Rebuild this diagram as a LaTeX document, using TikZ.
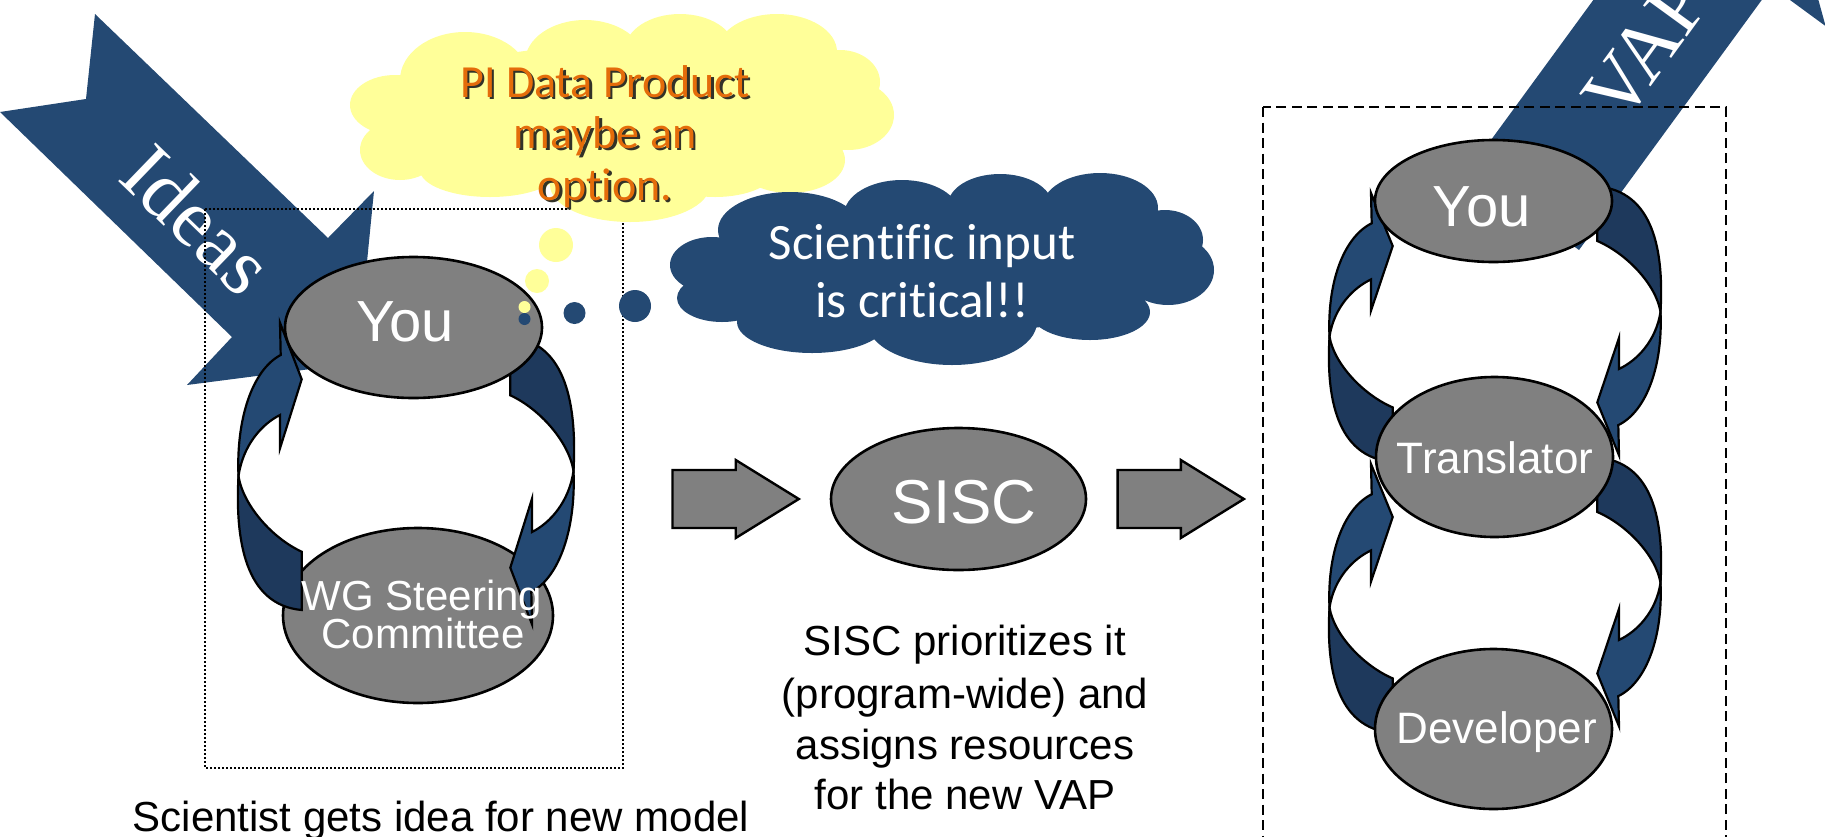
\documentclass[tikz,border=0pt]{standalone}
\usepackage{fontspec}
\setmainfont{Liberation Sans}
\newfontfamily\romanface{Liberation Serif}
\newfontfamily\cloudface[Ligatures=NoCommon]{Carlito}
\usetikzlibrary{shapes.geometric}

\definecolor{navy}{RGB}{36,73,115}
\definecolor{navydark}{RGB}{30,57,92}
\definecolor{cloudyellow}{RGB}{255,255,153}
\definecolor{ochre}{RGB}{228,108,10}
\definecolor{shadowgray}{RGB}{50,50,40}
\definecolor{ellgray}{RGB}{128,128,128}

% curved ribbon arrow: light front part with the head, dark back part with the tail
\newcommand{\ribbonarrow}{%
  \filldraw[ribbon]
    (280,322.7) -- (301.7,379.3) -- (280,448.3) -- (280,415)
    .. controls (262,424) and (243,445) .. (238.5,476)
    .. controls (236,420) and (252,370) .. (280.7,355) -- cycle;
  \filldraw[ribbonback]
    (238.5,476) .. controls (235,540) and (245,605) .. (301.7,610)
    -- (301.7,551.7) .. controls (272,538) and (243,505) .. (238.5,476) -- cycle;
}

\tikzset{
  blob/.style={ellipse, draw=black, line width=2.6pt, fill=ellgray, inner sep=0pt},
  wlabel/.style={text=white, inner sep=0pt, anchor=base},
  caption/.style={text=black, inner sep=0pt, anchor=base, font=\fontsize{42pt}{48pt}\selectfont},
  blockarrow/.style={fill=ellgray, draw=black, line width=2.4pt, line join=miter},
  ribbon/.style={fill=navy, draw=black, line width=2.2pt, line join=miter},
  ribbonback/.style={fill=navydark, draw=black, line width=2.2pt, line join=miter},
  banner/.style={fill=navy},
  bannertext/.style={text=white, inner sep=0pt, font=\romanface\fontsize{82pt}{82pt}\selectfont},
  yellowtext/.style={inner sep=0pt, anchor=base, font=\cloudface\fontsize{46pt}{50pt}\selectfont},
  bluetext/.style={text=white, inner sep=0pt, anchor=base, font=\cloudface\fontsize{51pt}{56pt}\selectfont},
}

\begin{document}
\begin{tikzpicture}[x=1pt, y=-1pt]
\useasboundingbox (0,0) rectangle (1825,836);
\clip (0,0) rectangle (1825,836);

% ---------------- Ideas banner ----------------
\fill[banner] (95,14) -- (328,238) -- (374,191) -- (357,363) -- (187,385)
  -- (232,337) -- (0,112) -- (86,99) -- cycle;
\node[bannertext, rotate=-44] (ideas) at (198,219) {Ideas};

% dotted frame of the working group
\draw[line width=2pt, dash pattern=on 2pt off 2pt] (205,209) rectangle (623,768);

% working group cycle
\node[blob, minimum width=270pt, minimum height=175pt] (wg) at (418,615.5) {};
\ribbonarrow
\begin{scope}[shift={(812,947)}, scale=-1]
  \ribbonarrow
\end{scope}
\node[blob, minimum width=257pt, minimum height=141pt] (you1) at (413.5,327.5) {};
\node[wlabel, font=\fontsize{58pt}{58pt}\selectfont] (you1-t) at (405,341.7) {You};
\node[wlabel, font=\fontsize{42pt}{42pt}\selectfont] (wg-t1) at (422,610) {WG Steering};
\node[wlabel, font=\fontsize{42pt}{42pt}\selectfont] (wg-t2) at (423,648) {Committee};

% ---------------- thought clouds ----------------
\fill[cloudyellow]
  (620,115) ellipse [x radius=235pt, y radius=70pt]
  (465,80) ellipse [x radius=65pt, y radius=48pt]
  (585,62) ellipse [x radius=60pt, y radius=42pt]
  (680,50) ellipse [x radius=55pt, y radius=36pt]
  (777,52) ellipse [x radius=60pt, y radius=38pt]
  (840,82) ellipse [x radius=40pt, y radius=32pt]
  (848,115) ellipse [x radius=46pt, y radius=35pt]
  (790,160) ellipse [x radius=55pt, y radius=33pt]
  (630,185) ellipse [x radius=80pt, y radius=37pt]
  (715,170) ellipse [x radius=60pt, y radius=27pt]
  (490,170) ellipse [x radius=70pt, y radius=27pt]
  (400,150) ellipse [x radius=40pt, y radius=30pt]
  (395,105) ellipse [x radius=45pt, y radius=30pt];
\foreach \t/\y [count=\i] in {PI Data Product/97, maybe an/148, option./200} {
  \node[yellowtext, text=shadowgray] (pi-s\i) at (607.5,\y+2.5) {\t};
  \node[yellowtext, text=ochre] (pi-\i) at (605,\y) {\t};
}

\fill[navy]
  (942,268) ellipse [x radius=235pt, y radius=65pt]
  (790,230) ellipse [x radius=72pt, y radius=38pt]
  (902,215) ellipse [x radius=58pt, y radius=35pt]
  (1000,205) ellipse [x radius=52pt, y radius=31pt]
  (1100,208) ellipse [x radius=58pt, y radius=35pt]
  (1165,240) ellipse [x radius=38pt, y radius=30pt]
  (1168,270) ellipse [x radius=46pt, y radius=35pt]
  (1090,312) ellipse [x radius=60pt, y radius=28pt]
  (952,322) ellipse [x radius=85pt, y radius=43pt]
  (812,322) ellipse [x radius=75pt, y radius=31pt]
  (722,298) ellipse [x radius=45pt, y radius=24pt]
  (712,265) ellipse [x radius=42pt, y radius=28pt];
\node[bluetext] (sci-1) at (922,259) {Scientific input};
\node[bluetext] (sci-2) at (922,317) {is critical!!};

% thought bubbles
\fill[cloudyellow] (556,245) circle [radius=17pt];
\fill[cloudyellow] (537,281) circle [radius=12pt];
\fill[cloudyellow] (524.5,307) circle [radius=6pt];
\fill[navy] (524.5,319) circle [radius=6pt];
\fill[navy] (574.5,313) circle [radius=11pt];
\fill[navy] (635,306) circle [radius=16pt];

% ---------------- SISC step ----------------
\draw[blockarrow] (672.5,470) -- (735.7,470) -- (735.7,460) -- (798.8,499)
  -- (735.7,538) -- (735.7,528) -- (672.5,528) -- cycle;
\node[blob, minimum width=255pt, minimum height=142pt] (sisc) at (958.5,499) {};
\node[wlabel, font=\fontsize{62pt}{62pt}\selectfont] (sisc-t) at (964,523.3) {SISC};
\draw[blockarrow] (1117.6,470) -- (1180.8,470) -- (1180.8,460) -- (1243.9,499)
  -- (1180.8,538) -- (1180.8,528) -- (1117.6,528) -- cycle;

\node[caption] (cap-1) at (965,655) {SISC prioritizes it};
\node[caption] (cap-2) at (965,708) {(program-wide) and};
\node[caption] (cap-3) at (965,759) {assigns resources};
\node[caption] (cap-4) at (965,809) {for the new VAP};
\node[caption] (cap-left) at (441,831) {Scientist gets idea for new model};

% ---------------- VAP banner and development team ----------------
\fill[banner] (1469.2,169.8) -- (1661.8,-93.7) -- (1607.8,-133.3) -- (1779.8,-139.9)
  -- (1825.6,26.1) -- (1771.6,-13.5) -- (1579,250) -- cycle;
\node[bannertext, rotate=54] (vap) at (1646,49) {VAP};

\draw[line width=2.3pt, dash pattern=on 10pt off 5.5pt] (1263,107) rectangle (1726,880);

\begin{scope}[shift={(1091,-109)}, yscale=0.936]
  \ribbonarrow
\end{scope}
\begin{scope}[shift={(1087,-129)}, yscale=0.936, shift={(812,947)}, scale=-1]
  \ribbonarrow
\end{scope}
\begin{scope}[shift={(1091,162)}, yscale=0.936]
  \ribbonarrow
\end{scope}
\begin{scope}[shift={(1087,142)}, yscale=0.936, shift={(812,947)}, scale=-1]
  \ribbonarrow
\end{scope}

\node[blob, minimum width=237pt, minimum height=122pt] (you2) at (1493.5,201) {};
\node[blob, minimum width=237pt, minimum height=160pt] (trans) at (1494.5,457) {};
\node[blob, minimum width=237pt, minimum height=160pt] (dev) at (1493.5,729) {};
\node[wlabel, font=\fontsize{58pt}{58pt}\selectfont] (you2-t) at (1481.7,226.7) {You};
\node[wlabel, font=\fontsize{44pt}{44pt}\selectfont] (trans-t) at (1495,473.3) {Translator};
\node[wlabel, font=\fontsize{44pt}{44pt}\selectfont] (dev-t) at (1496.7,743.6) {Developer};
\end{tikzpicture}
\end{document}
